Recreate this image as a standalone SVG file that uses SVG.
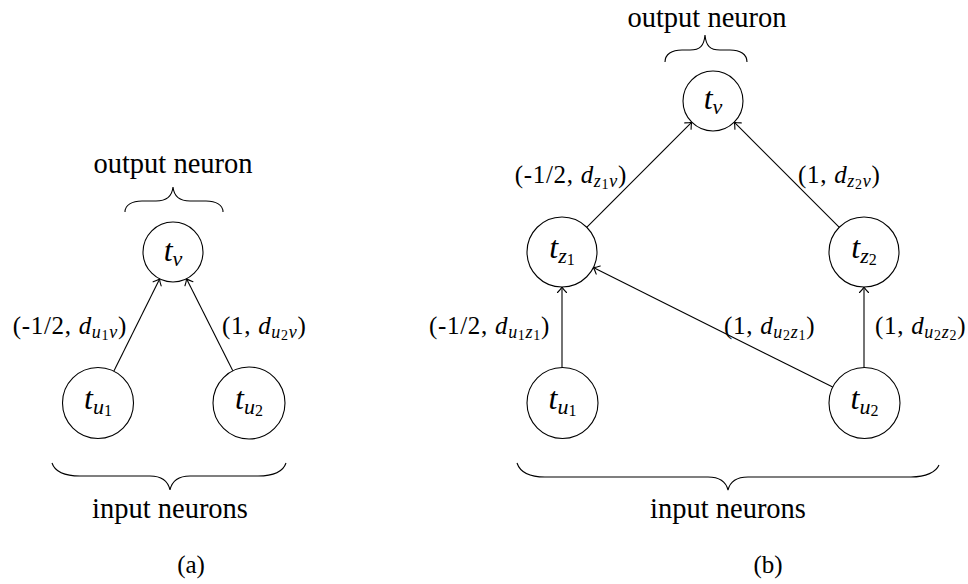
<svg xmlns="http://www.w3.org/2000/svg" width="968" height="584" viewBox="0 0 968 584">
<style>
  .node circle { fill: #fff; stroke: #000; stroke-width: 1.1; }
  .nt { font-size: 32px; fill: #000; }
  .it { font-style: italic; }
  .lbl { font-size: 25px; fill: #000; letter-spacing: 0.7px; }
  .big { font-size: 28.5px; fill: #000; text-anchor: middle; }
  .cap { font-size: 25px; fill: #000; text-anchor: middle; }
  .edge { stroke: #000; stroke-width: 1.1; fill: none; marker-end: url(#arr); }
  .brace { stroke: #000; stroke-width: 1.1; fill: none; }
</style>
<defs>
  <marker id="arr" markerUnits="userSpaceOnUse" viewBox="-7 -6 9 12" refX="0" refY="0" markerWidth="9" markerHeight="12" orient="auto" overflow="visible">
    <path d="M -5.5 -4.5 Q -2 -1 0 0 Q -2 1 -5.5 4.5" fill="none" stroke="#000" stroke-width="1.1" stroke-linecap="round"/>
  </marker>
</defs>
<g font-family="Liberation Serif, serif">
<g id="connectors">
  <line class="edge" x1="113.8" y1="371.2" x2="159.6" y2="278.9"/>
  <line class="edge" x1="232.8" y1="370.8" x2="186.5" y2="278.8"/>
  <line class="edge" x1="586.7" y1="227.3" x2="691.8" y2="122.2"/>
  <line class="edge" x1="839.3" y1="227.3" x2="734.2" y2="122.2"/>
  <line class="edge" x1="562" y1="367.5" x2="562" y2="287"/>
  <line class="edge" x1="864" y1="367.5" x2="864" y2="287"/>
  <line class="edge" x1="832.7" y1="387.1" x2="593.3" y2="267.6"/>
</g>

<g id="edge-labels">
  <text class="lbl" x="127" y="334" text-anchor="end">(-1/2, <tspan class="it">d</tspan><tspan class="it" font-size="18" dy="4">u</tspan><tspan font-size="14" dy="2">1</tspan><tspan class="it" font-size="18" dy="-2">v</tspan><tspan dy="-4">)</tspan></text>
  <text class="lbl" x="222" y="334">(1, <tspan class="it">d</tspan><tspan class="it" font-size="18" dy="4">u</tspan><tspan font-size="14" dy="2">2</tspan><tspan class="it" font-size="18" dy="-2">v</tspan><tspan dy="-4">)</tspan></text>
  <text class="lbl" x="627" y="183" text-anchor="end">(-1/2, <tspan class="it">d</tspan><tspan class="it" font-size="18" dy="4">z</tspan><tspan font-size="14" dy="2">1</tspan><tspan class="it" font-size="18" dy="-2">v</tspan><tspan dy="-4">)</tspan></text>
  <text class="lbl" x="798" y="183">(1, <tspan class="it">d</tspan><tspan class="it" font-size="18" dy="4">z</tspan><tspan font-size="14" dy="2">2</tspan><tspan class="it" font-size="18" dy="-2">v</tspan><tspan dy="-4">)</tspan></text>
  <text class="lbl" x="550" y="334" text-anchor="end">(-1/2, <tspan class="it">d</tspan><tspan class="it" font-size="18" dy="4">u</tspan><tspan font-size="14" dy="2">1</tspan><tspan class="it" font-size="18" dy="-2">z</tspan><tspan font-size="14" dy="2">1</tspan><tspan dy="-6">)</tspan></text>
  <text class="lbl" x="724" y="334">(1, <tspan class="it">d</tspan><tspan class="it" font-size="18" dy="4">u</tspan><tspan font-size="14" dy="2">2</tspan><tspan class="it" font-size="18" dy="-2">z</tspan><tspan font-size="14" dy="2">1</tspan><tspan dy="-6">)</tspan></text>
  <text class="lbl" x="875" y="334">(1, <tspan class="it">d</tspan><tspan class="it" font-size="18" dy="4">u</tspan><tspan font-size="14" dy="2">2</tspan><tspan class="it" font-size="18" dy="-2">z</tspan><tspan font-size="14" dy="2">2</tspan><tspan dy="-6">)</tspan></text>
</g>

<g id="a-tv" class="node">
  <circle cx="173" cy="252" r="30"/>
  <text class="nt" x="173" y="261" text-anchor="middle"><tspan class="it">t</tspan><tspan class="it" font-size="22" dy="5">v</tspan></text>
</g>
<g id="a-tu1" class="node">
  <circle cx="98" cy="403" r="35.5"/>
  <text class="nt" x="98" y="409" text-anchor="middle"><tspan class="it">t</tspan><tspan class="it" font-size="22" dy="5">u</tspan><tspan font-size="16" dy="2">1</tspan></text>
</g>
<g id="a-tu2" class="node">
  <circle cx="249" cy="403" r="36"/>
  <text class="nt" x="249" y="409" text-anchor="middle"><tspan class="it">t</tspan><tspan class="it" font-size="22" dy="5">u</tspan><tspan font-size="16" dy="2">2</tspan></text>
</g>

<g id="b-tv" class="node">
  <circle cx="713" cy="101" r="30"/>
  <text class="nt" x="713" y="109" text-anchor="middle"><tspan class="it">t</tspan><tspan class="it" font-size="22" dy="5">v</tspan></text>
</g>
<g id="b-tz1" class="node">
  <circle cx="562" cy="252" r="35"/>
  <text class="nt" x="562" y="258" text-anchor="middle"><tspan class="it">t</tspan><tspan class="it" font-size="22" dy="5">z</tspan><tspan font-size="16" dy="2">1</tspan></text>
</g>
<g id="b-tz2" class="node">
  <circle cx="864" cy="252" r="35"/>
  <text class="nt" x="864" y="258" text-anchor="middle"><tspan class="it">t</tspan><tspan class="it" font-size="22" dy="5">z</tspan><tspan font-size="16" dy="2">2</tspan></text>
</g>
<g id="b-tu1" class="node">
  <circle cx="562.5" cy="403" r="35.5"/>
  <text class="nt" x="562.5" y="409" text-anchor="middle"><tspan class="it">t</tspan><tspan class="it" font-size="22" dy="5">u</tspan><tspan font-size="16" dy="2">1</tspan></text>
</g>
<g id="b-tu2" class="node">
  <circle cx="864.5" cy="403" r="35.5"/>
  <text class="nt" x="864.5" y="409" text-anchor="middle"><tspan class="it">t</tspan><tspan class="it" font-size="22" dy="5">u</tspan><tspan font-size="16" dy="2">2</tspan></text>
</g>

<g id="annotations">
  <text class="big" x="173" y="173">output neuron</text>
  <path class="brace" d="M 125 212 C 125 205, 132 201, 142 201 L 156 201 C 166 201, 172 197, 173 187 C 174 197, 180 201, 190 201 L 206 201 C 216 201, 223 205, 223 212"/>
  <path class="brace" d="M 52 463 C 55 472, 65 476, 80 476 L 150 476 C 162 476, 168 481, 170 490 C 172 481, 178 476, 190 476 L 258 476 C 273 476, 283 472, 286 463"/>
  <text class="big" x="170" y="518">input neurons</text>
  <text class="cap" x="191" y="573">(a)</text>

  <text class="big" x="707" y="27">output neuron</text>
  <path class="brace" d="M 665 62 C 665 54, 672 50, 682 50 L 690 50 C 700 50, 704 46, 705 35 C 706 46, 710 50, 720 50 L 730 50 C 740 50, 747 54, 747 62"/>
  <path class="brace" d="M 517 463 C 520 472, 530 477, 545 477 L 708 477 C 720 477, 726 482, 728 490 C 730 482, 736 477, 748 477 L 911 477 C 926 477, 936 472, 939 465"/>
  <text class="big" x="728" y="518">input neurons</text>
  <text class="cap" x="768" y="573">(b)</text>
</g>
</g>
</svg>
